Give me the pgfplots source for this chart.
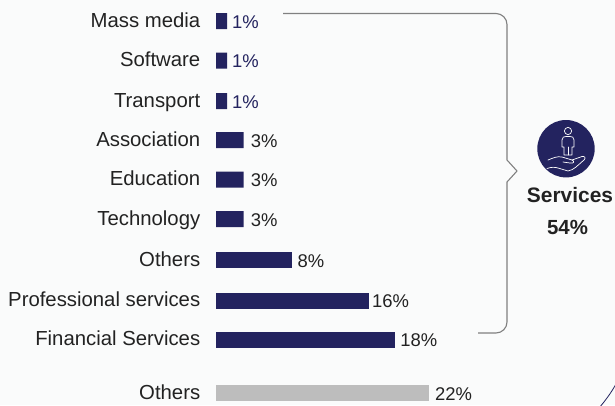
\documentclass[border=0pt]{standalone}
\usepackage{pgfplots}
\pgfplotsset{compat=1.18}
\usepackage{fontspec}
\setmainfont{Liberation Sans}
\definecolor{navy}{HTML}{23235F}
\definecolor{bgc}{HTML}{FAFBFB}
\definecolor{txt}{HTML}{222222}
\definecolor{grey}{HTML}{BDBDBD}
\definecolor{brk}{HTML}{808080}
\newcommand{\fs}{\fontsize{20.4}{23}\selectfont}
\newcommand{\fv}{\fontsize{18.5}{21}\selectfont}
\begin{document}
\begin{tikzpicture}[x=1bp,y=-1bp]
\path[fill=bgc] (0,0) rectangle (615,405);
\clip (0,0) rectangle (615,405);
\begin{scope}[shift={(216,405)}]
\begin{axis}[
  at={(0,0)}, anchor=south west,
  scale only axis, width=399bp, height=405bp,
  xmin=0, xmax=41.22, ymin=0, ymax=405, y dir=reverse,
  axis line style={draw=none}, tick style={draw=none},
  xtick=\empty,
  ytick={21,60.5,101,140,179.5,219,260,300.5,339.5,393},
  yticklabels={Mass media,Software,Transport,Association,Education,Technology,Others,Professional services,Financial Services,Others},
  yticklabel style={anchor=east, font=\fs, text=txt, xshift=-8bp, yshift=-0.8bp, text height=15bp, text depth=4bp},
  xbar, bar shift=0pt, bar width=16bp,
  point meta=explicit symbolic,
  nodes near coords, clip=false,
  nodes near coords style={font=\fv, inner sep=0pt, anchor=west, yshift=-1bp},
]
\addplot[draw=none, fill=navy, nodes near coords style={text=navy, xshift=5bp}] coordinates {
 (1.14,21) [1\%] (1.14,60.5) [1\%] (1.14,101) [1\%]};
\addplot[draw=none, fill=navy, nodes near coords style={text=txt, xshift=7bp}] coordinates {
 (2.85,140) [3\%] (2.85,179.5) [3\%] (2.85,219) [3\%]};
\addplot[draw=none, fill=navy, nodes near coords style={text=txt, xshift=6bp}] coordinates {
 (7.8,260) [8\%]};
\addplot[draw=none, fill=navy, nodes near coords style={text=txt, xshift=3bp}] coordinates {
 (15.8,300.5) [16\%]};
\addplot[draw=none, fill=navy, nodes near coords style={text=txt, xshift=5bp}] coordinates {
 (18.5,339.5) [18\%]};
\addplot[draw=none, fill=grey, nodes near coords style={text=txt, xshift=6bp}] coordinates {
 (22,393) [22\%]};
\end{axis}
\end{scope}
% bracket
\draw[brk, line width=1.1bp, line join=round]
 (283,13.5) -- (496,13.5) arc[start angle=90, end angle=0, x radius=11, y radius=-11]
 -- (507,160) -- (517,171) -- (507,182) -- (507,322)
 arc[start angle=0, end angle=-90, x radius=11, y radius=-11] -- (478,333);
% icon
\fill[navy] (566,148.7) circle[radius=28.7bp];
\begin{scope}[white, line width=0.7bp, line cap=round, line join=round]
\draw (568,131) circle[radius=3.6bp];
\draw (564,155) -- (564,147) -- (562,147) -- (562,140) .. controls (562,137) and (564,136.5) .. (566,136.5) -- (570,136.5) .. controls (572,136.5) and (574,137) .. (574,140) -- (574,147) -- (572,147) -- (572,155) -- (564,155);
\draw (568,147) -- (568,155);
\draw (548,160) .. controls (553,158) and (557,156) .. (562,157) -- (572,160) .. controls (575,161) and (574,164) .. (570,163) -- (563,162);
\draw (572,160) -- (582,156.5) .. controls (585,156) and (586,158) .. (584,160) .. controls (578,165) and (574,170) .. (568,171) -- (558,168) .. controls (555,167) and (551,167) .. (547,168.5);
\end{scope}
\node[font=\fontsize{21}{24}\selectfont\bfseries, text=txt, inner sep=0pt] at (570,195) {Services};
\node[font=\fontsize{20.5}{24}\selectfont\bfseries, text=txt, inner sep=0pt] at (567.5,227) {54\%};
% arc corner
\draw[navy, line width=0.8bp] (599,408) .. controls (605,401) and (611,393) .. (616,384);
\end{tikzpicture}
\end{document}
